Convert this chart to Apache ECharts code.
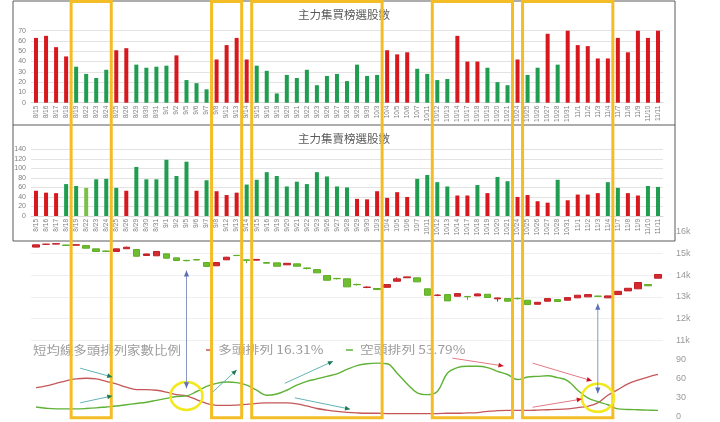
<!DOCTYPE html>
<html><head><meta charset="utf-8">
<script src="https://cdn.jsdelivr.net/npm/echarts@6/dist/echarts.min.js"></script>
<style>html,body{margin:0;padding:0;background:#fff}#c{width:720px;height:422px}</style>
</head><body><div id="c"></div><script>
// ---------- data ----------
const categories = ['8/15','8/16','8/17','8/18','8/19','8/22','8/23','8/24','8/25','8/26',
 '8/29','8/30','8/31','9/1','9/2','9/5','9/6','9/7','9/8','9/12',
 '9/13','9/14','9/15','9/16','9/19','9/20','9/21','9/22','9/23','9/26',
 '9/27','9/28','9/29','9/30','10/3','10/4','10/5','10/6','10/7','10/11',
 '10/12','10/13','10/14','10/17','10/18','10/19','10/20','10/21','10/24','10/25',
 '10/26','10/27','10/28','10/31','11/1','11/2','11/3','11/4','11/7','11/8',
 '11/9','11/10','11/11'];
const buyCounts = [63,65,54,45,35,28,24,32,51,53, 37,34,35,36,46,22,19,13,42,56,
 63,42,36,31,9,27,24,32,17,26, 28,21,37,26,27,51,47,49,33,28,
 22,23,65,40,40,34,20,17,42,27, 34,67,37,70,56,55,43,43,63,49, 70,63,70];
const sellCounts = [53,49,48,67,63,59,77,78,59,53, 103,77,77,118,84,114,53,75,52,44,
 49,66,76,92,84,62,72,67,92,83, 62,60,36,35,52,38,50,40,78,86,
 71,62,43,43,65,48,82,73,40,44, 31,28,76,33,45,45,48,71,59,48, 43,63,61];
const sellHighlight = ['8/22'];
const candleOpen = [15290,15420,15430,15385,15380,15360,15210,15110,15090,15215,
 15180,14905,14890,14980,14795,14680,14715,14580,14430,14705,
 14910,14705,14690,14580,14565,14475,14520,14330,14255,13980,
 13850,13830,13575,13435,13385,13440,13720,13880,13875,13370,
 13070,13105,13030,13020,13045,13120,12910,12920,12930,12845,
 12660,12800,12875,12845,12955,13000,13035,12955,13105,13275, 13370,13565,13860];
const candleClose = [15395,15425,15450,15370,15400,15240,15090,15095,15210,15285,
 14870,14975,15090,14780,14675,14665,14700,14400,14580,14825,
 14900,14680,14725,14550,14410,14545,14410,14310,14105,13765,
 13835,13460,13560,13450,13335,13565,13830,13920,13690,13075,
 13080,12815,13150,13005,13135,12970,12950,12800,12915,12645,
 12750,12920,12785,12965,13075,13105,13025,13045,13255,13395, 13660,13510,14030];
const candleLow = [15280,15405,15420,15355,15370,15235,15085,15060,15080,15205,
 14860,14895,14885,14770,14665,14640,14680,14390,14420,14700,
 14890,14550,14680,14545,14405,14470,14400,14260,14100,13760,
 13800,13455,13520,13400,13320,13430,13710,13870,13685,13070,
 13030,12810,13025,12860,13040,12965,12780,12795,12880,12640,
 12650,12795,12780,12840,12950,12995,13010,12950,13100,13270, 13365,13505,13855];
const candleHigh = [15400,15440,15460,15395,15410,15365,15215,15130,15215,15310,
 15185,14990,15095,14985,14800,14700,14740,14585,14585,14845,
 14930,14715,14745,14585,14570,14550,14525,14345,14260,13985,
 13870,13835,13600,13480,13395,13570,13900,13930,13880,13375,
 13120,13110,13175,13030,13150,13125,12960,12930,12960,12850,
 12755,12930,12880,12975,13085,13115,13045,13050,13260,13400, 13665,13570,14035];
const bullRatio = [46,49,53,57,60,61,60,56,52,47, 43,43,42,39,35,33,27,21,18,18,
 18.5,19.5,21,22,22,22,20.5,17,13,10.5, 8.5,7,6,5.5,5.5,5,5,5,5,5,
 5,5.5,5.5,6,6.5,8.5,9.5,10,10,10, 10.5,11,11.5,12.5,14.5,16.5,22,34,43,52, 58,63,67];
const bearRatio = [15.5,13.5,12.5,12.5,12.5,13,14,15.5,17,19, 21,23,26,29,32,33,40,48,53,55,
 54,50,42,34,36,42,50,56,60,64, 68,75,81,84,85,84,69,52,38,35,
 40,69,78,80,80,78,72,67,59,63, 64,65,62,57,42,30,24,19,12.5,11.5, 11,10.5,10];
const buyTitle = '主力集買榜選股數';
const sellTitle = '主力集賣榜選股數';
const lineTitle = '短均線多頭排列家數比例';
const bullName = '多頭排列', bullPct = '16.31%';
const bearName = '空頭排列', bearPct = '53.79%';
// annotations (category ranges / crossings / arrows in data terms)
const highlightRanges = [['8/19','8/24'],['9/8','9/13'],['9/15','10/3'],['10/12','10/21'],['10/25','11/4']];
const crossMarks = [['9/5',33],['11/3',30]];
const linkArrows = [['9/5',14300,45],['11/3',12780,37]];
const trendArrows = [ // [fromIndex, fromValue, toIndex, toValue, kind]
 [4.4,77,7.6,63,'t'],[4.4,22,7.6,33,'t'],[17.6,39,20.0,74,'t'],[24.8,53,29.6,88,'t'],[25.8,30,31.3,12,'t'],
 [41.5,93,46.6,80.5,'r'],[49.5,85,55.4,57,'r'],[49.5,15,54.4,28,'r']];

// ---------- chart ----------
const CJK = '"Noto Sans CJK TC","Noto Sans CJK SC",sans-serif';
const RED = '#d7191f', GREEN = '#1f9d50', LGREEN = '#7cc04a';
const chart = echarts.init(document.getElementById('c'));
const G = {left:31, right:57};
function catAxis(gi, show){
  return {type:'category', gridIndex:gi, data:categories, boundaryGap:true, z: show?3:0,
    axisTick:{show:false}, axisLine:{show:show, lineStyle:{color:'#d9d9d9'}},
    axisLabel: show ? {interval:0, rotate:90, fontSize:6.5, color:'#808080', margin:3, fontFamily:'Liberation Sans'} : {show:false},
    splitLine:{show:false}};
}
const option = {
  animation:false,
  grid:[
    Object.assign({top:30.7, height:72}, G),
    Object.assign({top:149.3, height:66.7}, G),
    Object.assign({top:231.7, height:108.6}, G),
    Object.assign({top:360, height:56.7}, G)
  ],
  xAxis:[catAxis(0,true), catAxis(1,true), catAxis(2,false), catAxis(3,false)],
  yAxis:[
    {type:'value', gridIndex:0, min:0, max:70, interval:10, z:3,
     axisLabel:{fontSize:7, color:'#808080', margin:5, fontFamily:'Liberation Sans'},
     splitLine:{lineStyle:{color:'#e3e3e3'}}},
    {type:'value', gridIndex:1, min:0, max:140, interval:20, z:3,
     axisLabel:{fontSize:7, color:'#808080', margin:5, fontFamily:'Liberation Sans'},
     splitLine:{lineStyle:{color:'#e3e3e3'}}},
    {type:'value', gridIndex:2, position:'right', min:11000, max:16000, interval:1000,
     axisLabel:{fontSize:9, color:'#9a9a9a', margin:13, formatter:v=>(v/1000)+'k', fontFamily:'Liberation Sans'},
     splitLine:{lineStyle:{color:'#efefef'}}},
    {type:'value', gridIndex:3, position:'right', min:0, max:90, interval:30,
     axisLabel:{fontSize:9, color:'#9a9a9a', margin:13, fontFamily:'Liberation Sans'},
     splitLine:{show:false}}
  ],
  series:[
    {type:'bar', xAxisIndex:0, yAxisIndex:0, barWidth:4, z:4,
     data: buyCounts.map(v=>({value:v, itemStyle:{color: v>=40?RED:GREEN}}))},
    {type:'bar', xAxisIndex:1, yAxisIndex:1, barWidth:4, z:4,
     data: sellCounts.map((v,i)=>({value:v, itemStyle:{color: sellHighlight.includes(categories[i])?LGREEN:(v<55?RED:GREEN)}}))},
    {type:'candlestick', xAxisIndex:2, yAxisIndex:2, barWidth:7,
     itemStyle:{color:'#d42a30', color0:'#6fbd30', borderColor:'#c21f25', borderColor0:'#5fae26', borderWidth:1},
     data: categories.map((c,i)=>[candleOpen[i], candleClose[i], candleLow[i], candleHigh[i]])},
    {type:'line', name:bullName, xAxisIndex:3, yAxisIndex:3, data:bullRatio, smooth:0.4, symbol:'none',
     lineStyle:{color:'#c4575a', width:1.3}, z:5},
    {type:'line', name:bearName, xAxisIndex:3, yAxisIndex:3, data:bearRatio, smooth:0.4, symbol:'none',
     lineStyle:{color:'#5fb236', width:1.4}, z:5}
  ]
};
chart.setOption(option);

// ---------- overlays positioned through the axes ----------
const x0 = chart.convertToPixel({xAxisIndex:3}, categories[0]);
const xN = chart.convertToPixel({xAxisIndex:3}, categories[categories.length-1]);
const xAt = f => x0 + (xN - x0) * f / (categories.length - 1);
const idx = c => categories.indexOf(c);
const yLine = v => chart.convertToPixel({yAxisIndex:3}, v);
const yCandle = v => chart.convertToPixel({yAxisIndex:2}, v);
function head(x1,y1,x2,y2,len,half,color){
  const a = Math.atan2(y2-y1, x2-x1);
  const bx = x2 - len*Math.cos(a), by = y2 - len*Math.sin(a);
  const px = -Math.sin(a)*half, py = Math.cos(a)*half;
  return {type:'polygon', silent:true, z:22, shape:{points:[[x2,y2],[bx+px,by+py],[bx-px,by-py]]}, style:{fill:color}};
}
const yBot = yLine(0);
const boxLeft = 13, boxRight = 675, boxTop = 1, boxBottom = 241, divider = 125;
const gfx = [];
gfx.push({type:'rect', z:1, silent:true, shape:{x:boxLeft, y:boxTop, width:boxRight-boxLeft, height:boxBottom-boxTop},
  style:{fill:'#fff', stroke:'#5a5a5a', lineWidth:1}});
gfx.push({type:'line', z:1, silent:true, shape:{x1:boxLeft, y1:divider, x2:boxRight, y2:divider}, style:{stroke:'#5a5a5a', lineWidth:1}});
gfx.push({type:'text', z:6, x:344, y:15, style:{text:buyTitle, font:'11.5px '+CJK, fill:'#5a5a5a', textAlign:'center', textVerticalAlign:'middle'}});
gfx.push({type:'text', z:6, x:344, y:139, style:{text:sellTitle, font:'11.5px '+CJK, fill:'#5a5a5a', textAlign:'center', textVerticalAlign:'middle'}});
// line legend
const legY = 350;
gfx.push({type:'text', z:6, x:33, y:legY, scaleX:1.12, style:{text:lineTitle, font:'12px '+CJK, fill:'#9c9c9c', textVerticalAlign:'middle'}});
gfx.push({type:'line', z:6, shape:{x1:206, y1:legY, x2:213, y2:legY}, style:{stroke:'#c4575a', lineWidth:1.5}});
gfx.push({type:'text', z:6, x:218, y:legY, scaleX:1.2, style:{text:bullName+' '+bullPct, font:'11.5px '+CJK, fill:'#9c9c9c', textVerticalAlign:'middle'}});
gfx.push({type:'line', z:6, shape:{x1:346, y1:legY, x2:353, y2:legY}, style:{stroke:'#5fb236', lineWidth:1.5}});
gfx.push({type:'text', z:6, x:360, y:legY, scaleX:1.2, style:{text:bearName+' '+bearPct, font:'11.5px '+CJK, fill:'#9c9c9c', textVerticalAlign:'middle'}});
// highlight rectangles
highlightRanges.forEach(([a,b])=>{
  const xa = xAt(idx(a)-0.5), xb = xAt(idx(b)+0.5);
  gfx.push({type:'rect', z:20, silent:true, shape:{x:xa, y:1.5, width:xb-xa, height:(yBot+1)-1.5},
    style:{fill:'none', stroke:'#f4bd26', lineWidth:3}});
});
// crossing circles
crossMarks.forEach(([c,v])=>{
  gfx.push({type:'ellipse', z:21, silent:true, shape:{cx:xAt(idx(c)), cy:yLine(v), rx:16, ry:14},
    style:{fill:'none', stroke:'#f2e81c', lineWidth:2.5}});
});
// vertical link arrows (candle -> ratio line)
linkArrows.forEach(([c,cv,lv])=>{
  const x = xAt(idx(c)), y1 = yCandle(cv)+2, y2 = yLine(lv);
  gfx.push({type:'line', z:21, silent:true, shape:{x1:x, y1:y1, x2:x, y2:y2}, style:{stroke:'#8a98c8', lineWidth:1}});
  gfx.push(head(x, y2, x, y1, 6, 2.6, '#5b6fb5'));
  gfx.push(head(x, y1, x, y2, 6, 2.6, '#5b6fb5'));
});
// trend arrows
trendArrows.forEach(([fa,fv,ta,tv,k])=>{
  const x1 = xAt(fa), y1 = yLine(fv), x2 = xAt(ta), y2 = yLine(tv);
  const lc = k==='t' ? '#62b3b5' : '#e27a86', hc = k==='t' ? '#1e7a50' : '#d01020';
  gfx.push({type:'line', z:21, silent:true, shape:{x1:x1,y1:y1,x2:x2,y2:y2}, style:{stroke:lc, lineWidth:1}});
  gfx.push(head(x1,y1,x2,y2,5,2.4,hc));
});
chart.setOption({graphic: gfx});
</script></body></html>
